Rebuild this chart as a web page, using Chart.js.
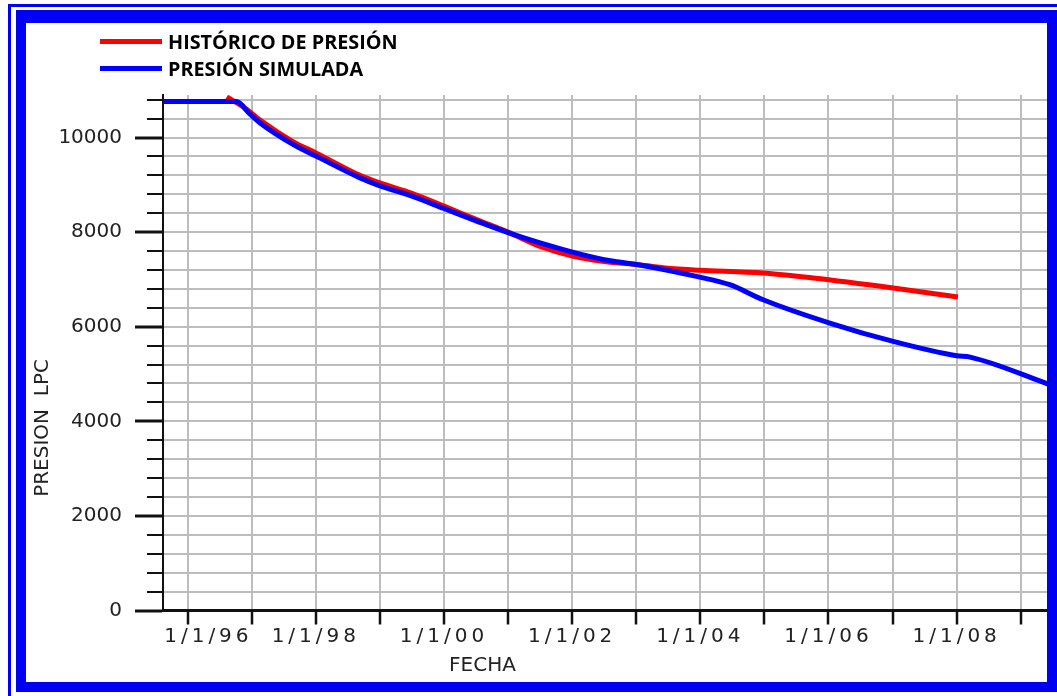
<!DOCTYPE html>
<html>
<head>
<meta charset="utf-8">
<script src="https://cdn.jsdelivr.net/npm/chart.js@4.4.1/dist/chart.umd.min.js"></script>
<style>
  html, body { margin: 0; padding: 0; background: #fff; }
  #wrap { position: relative; width: 1057px; height: 696px; overflow: hidden; background: #fff; }
  #c { position: absolute; left: 0; top: 0; }
  .frame-thin { position: absolute; left: 8px; top: 4px; width: 1100px; height: 800px;
    border-left: 3px solid #0000f5; border-top: 3px solid #0000f5; }
  .frame-thick { position: absolute; left: 16px; top: 10px; width: 1041px; height: 682px;
    box-sizing: border-box; border: 10px solid #0000f5; border-top-width: 13px; }
</style>
</head>
<body>
<div id="wrap">
  <canvas id="c" width="1057" height="696"></canvas>
  <div class="frame-thin"></div>
  <div class="frame-thick"></div>
</div>
<script>
// Pressure history (field data) — decimal years vs. pressure in psi (LPC)
const histYears = [1996.61, 1996.92, 1997.13, 1997.65, 1998.01, 1998.69, 1999.0, 1999.5, 2000.0,
  2000.5, 2001.0, 2001.5, 2002.02, 2002.5, 2003.03, 2003.6, 2004.0, 2004.98, 2005.76, 2007.01, 2008.02];
const histPressure = [10860, 10600, 10370, 9910, 9670, 9200, 9040, 8820, 8550,
  8270, 8000, 7700, 7490, 7380, 7310, 7225, 7195, 7136, 7030, 6819, 6630];

// Simulated pressure from the reservoir model
const simYears = [1995.62, 1996.76, 1996.97, 1997.13, 1997.65, 1998.01, 1998.69, 1999.0, 1999.5,
  2000.0, 2000.5, 2001.0, 2001.5, 2002.02, 2002.5, 2003.03, 2003.94, 2004.46, 2004.98,
  2006.02, 2007.01, 2008.0, 2008.21, 2009.46, 2009.57];
const simPressure = [10760, 10760, 10500, 10310, 9852, 9604, 9147, 8980, 8760,
  8500, 8240, 7990, 7771, 7572, 7418, 7312, 7064, 6889, 6571,
  6078, 5689, 5386, 5358, 4772, 4720];

const seriesNames = ['HISTÓRICO DE PRESIÓN', 'PRESIÓN SIMULADA'];
const xTitle = 'FECHA';
const yTitle = 'PRESION  LPC';

const X_MIN = 1995.615, X_MAX = 2009.566;
const Y_MAX = 10900;

const pairs = (xs, ys) => xs.map((x, i) => ({ x: x, y: ys[i] }));

const tickFont = { family: 'DejaVu Sans', size: 20, weight: 'normal' };
const gridGray = '#bdbdbd';
const axisInk = '#111';
const isMajor = (c) => c.tick && Math.round(c.tick.value) % 2000 === 0;

// Legend drawn as a stacked list in the top-left corner
const stackedLegend = {
  id: 'stackedLegend',
  afterDraw(chart) {
    const ctx = chart.ctx;
    ctx.save();
    chart.data.datasets.forEach((ds, i) => {
      const cy = 41.5 + i * 27;
      ctx.strokeStyle = ds.borderColor;
      ctx.lineWidth = 5;
      ctx.beginPath();
      ctx.moveTo(100, cy);
      ctx.lineTo(162, cy);
      ctx.stroke();
      ctx.fillStyle = '#000';
      ctx.font = 'bold 19.8px "Open Sans"';
      ctx.textAlign = 'left';
      ctx.textBaseline = 'alphabetic';
      ctx.fillText(ds.label, 168, cy + 7.5);
    });
    ctx.restore();
  }
};

// Axis titles placed along their scales
const axisTitles = {
  id: 'axisTitles',
  afterDraw(chart) {
    const ctx = chart.ctx;
    const xs = chart.scales.x, ys = chart.scales.y;
    ctx.save();
    ctx.fillStyle = '#222';
    ctx.font = '20px "DejaVu Sans"';
    ctx.textAlign = 'center';
    ctx.textBaseline = 'alphabetic';
    ctx.fillText(xTitle, xs.getPixelForValue(2000.6), 671);
    ctx.translate(43, ys.getPixelForValue(3860));
    ctx.rotate(-Math.PI / 2);
    ctx.textBaseline = 'middle';
    ctx.fillText(yTitle, 0, 0);
    ctx.restore();
  }
};

// Date labels on the time axis are drawn with wider letter spacing
const spacedDateLabels = {
  id: 'spacedDateLabels',
  beforeDraw(chart) {
    const xs = chart.scales.x;
    if (xs._spacedWrapped) return;
    const orig = xs.drawLabels.bind(xs);
    xs.drawLabels = function (area) {
      const c = this.ctx;
      const prev = c.letterSpacing;
      c.letterSpacing = '4px';
      orig(area);
      c.letterSpacing = prev || '0px';
    };
    xs._spacedWrapped = true;
  }
};

new Chart(document.getElementById('c'), {
  type: 'line',
  data: {
    datasets: [
      {
        label: seriesNames[0],
        data: pairs(histYears, histPressure),
        borderColor: '#ff0000',
        borderWidth: 5,
        pointRadius: 0,
        cubicInterpolationMode: 'monotone',
        order: 1
      },
      {
        label: seriesNames[1],
        data: pairs(simYears, simPressure),
        borderColor: '#0000ff',
        borderWidth: 5,
        pointRadius: 0,
        cubicInterpolationMode: 'monotone',
        order: 0
      }
    ]
  },
  options: {
    responsive: false,
    animation: false,
    devicePixelRatio: 1,
    layout: { padding: { top: 95, left: 0, right: 0, bottom: 0 } },
    plugins: { legend: { display: false }, tooltip: { enabled: false } },
    scales: {
      x: {
        type: 'linear',
        min: X_MIN,
        max: X_MAX,
        afterFit(s) { s.height = 85.5; },
        border: { display: true, color: axisInk, width: 3 },
        grid: {
          color: gridGray,
          lineWidth: 2,
          drawTicks: true,
          tickLength: 14,
          tickColor: axisInk,
          tickWidth: 2.5
        },
        ticks: {
          stepSize: 1,
          includeBounds: false,
          autoSkip: false,
          maxRotation: 0,
          minRotation: 0,
          padding: 0,
          color: '#222',
          font: tickFont,
          callback(v) {
            if (v % 2 !== 0) return '';
            const yy = String(v % 100).padStart(2, '0');
            return (v === 1996 ? '    ' : '') + '1/1/' + yy;
          }
        }
      },
      y: {
        type: 'linear',
        beginAtZero: true,
        max: Y_MAX,
        afterFit(s) { s.width = 163; },
        border: { display: true, color: axisInk, width: 2 },
        grid: {
          color: (c) => (c.tick && c.tick.value === 0 ? 'rgba(0,0,0,0)' : gridGray),
          lineWidth: 2,
          drawTicks: true,
          tickLength: 28,
          tickColor: axisInk,
          tickWidth: (c) => (isMajor(c) ? 3 : 2),
          tickBorderDash: (c) => (isMajor(c) ? [] : [16, 12]),
          tickBorderDashOffset: (c) => (isMajor(c) ? 0 : 16)
        },
        ticks: {
          stepSize: 400,
          includeBounds: false,
          autoSkip: false,
          maxTicksLimit: 100,
          padding: 13,
          color: '#222',
          font: tickFont,
          callback(v) { return Math.round(v) % 2000 === 0 ? String(Math.round(v)) : ''; }
        }
      }
    }
  },
  plugins: [spacedDateLabels, axisTitles, stackedLegend]
});
</script>
</body>
</html>
